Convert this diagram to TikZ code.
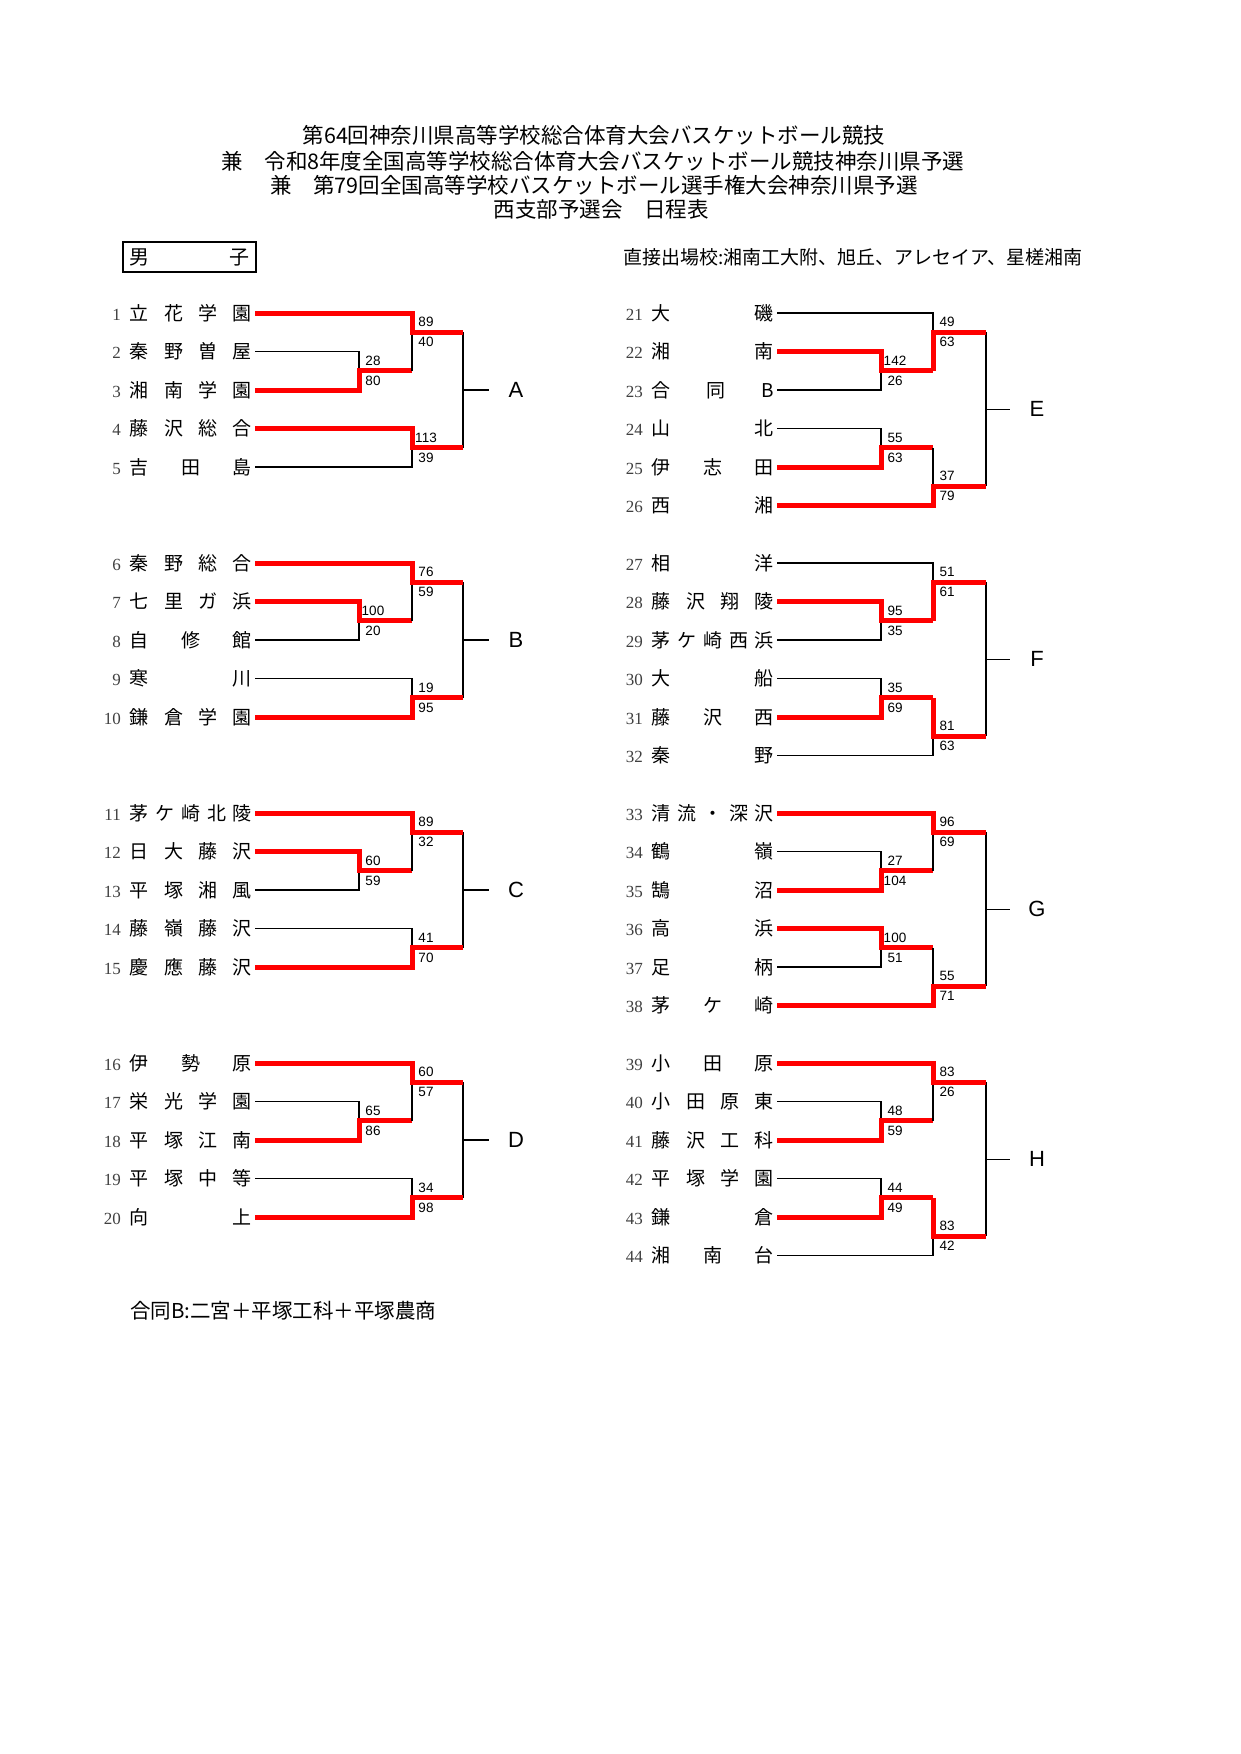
\documentclass[tikz,border=0pt]{standalone}
\usepackage{fontspec}
\setmainfont{Noto Sans CJK JP}
\newfontfamily\numfont{Liberation Serif}
\newfontfamily\latinfont{Liberation Sans}

% team number and spread-out school name
\makeatletter
\def\nm@a#1#2\@nil{#1\ifx\relax#2\relax\else\hfill\nm@a#2\@nil\fi}
\newcommand\nm[1]{\makebox[122pt][s]{\nm@a#1\@nil}}
\makeatother
\newcommand\no[1]{\makebox[24pt][r]{\numfont\fontsize{17}{17}\selectfont\color{black!75}#1}\hspace{9pt}}

% one game: upper, lower, game point, next point, winner (u/l), scores
\newcommand\bout[7]{%
  \if u#5
    \draw[loser] (#2) -| (#3);
    \draw[winner] (#1) -| (#3) -- (#3 -| #4);
  \else
    \draw[loser] (#1) -| (#3);
    \draw[winner] (#2) -| (#3) -- (#3 -| #4);
  \fi
  \node[score] (#3u) at ([shift={(14,-10)}]#3) {#6};
  \node[score] (#3d) at ([shift={(14,10)}]#3) {#7};
}

\begin{document}
\begin{tikzpicture}[x=1pt, y=-1pt,
    team/.style={anchor=east, inner xsep=3pt, inner ysep=1pt, font=\fontsize{19}{19}\selectfont},
    winner/.style={draw=red, line width=5pt},
    loser/.style={draw=black, line width=1.2pt},
    score/.style={inner sep=0pt, font=\latinfont\fontsize{13.5}{13.5}\selectfont},
    grp/.style={inner sep=0pt, minimum width=54pt, font=\latinfont\fontsize{22}{22}\selectfont},
    title/.style={inner sep=0pt, font=\fontsize{21.5}{21.5}\selectfont}
]
\fill[white] (0,0) rectangle (1241,1754);
\useasboundingbox (0,0) rectangle (1241,1754);

% Heading
\node[title] (head1) at (594,135) {第64回神奈川県高等学校総合体育大会バスケットボール競技};
\node[title] (head2) at (593,161) {兼　令和8年度全国高等学校総合体育大会バスケットボール競技神奈川県予選};
\node[title] (head3) at (594,185) {兼　第79回全国高等学校バスケットボール選手権大会神奈川県予選};
\node[title] (head4) at (601,209) {西支部予選会　日程表};

\node[draw, line width=2.5pt, minimum width=133pt, minimum height=30pt, inner sep=0pt,
      font=\fontsize{20}{20}\selectfont] (boys) at (189.5,257) {\makebox[120pt][s]{男\hfill 子}};
\node[anchor=west, inner sep=0pt, font=\fontsize{19}{19}\selectfont] (seeds) at (623,257)
      {直接出場校:湘南工大附、旭丘、アレセイア、星槎湘南};

% Teams, left half
\node[team] (t1) at (255,313) {\no{1}\nm{立花学園}};
\node[team] (t2) at (255,351.5) {\no{2}\nm{秦野曽屋}};
\node[team] (t3) at (255,390) {\no{3}\nm{湘南学園}};
\node[team] (t4) at (255,428.5) {\no{4}\nm{藤沢総合}};
\node[team] (t5) at (255,467) {\no{5}\nm{吉田島}};

\node[team] (t6) at (255,563) {\no{6}\nm{秦野総合}};
\node[team] (t7) at (255,601.5) {\no{7}\nm{七里ガ浜}};
\node[team] (t8) at (255,640) {\no{8}\nm{自修館}};
\node[team] (t9) at (255,678.5) {\no{9}\nm{寒川}};
\node[team] (t10) at (255,717) {\no{10}\nm{鎌倉学園}};

\node[team] (t11) at (255,813) {\no{11}\nm{茅ケ崎北陵}};
\node[team] (t12) at (255,851.5) {\no{12}\nm{日大藤沢}};
\node[team] (t13) at (255,890) {\no{13}\nm{平塚湘風}};
\node[team] (t14) at (255,928.5) {\no{14}\nm{藤嶺藤沢}};
\node[team] (t15) at (255,967) {\no{15}\nm{慶應藤沢}};

\node[team] (t16) at (255,1063) {\no{16}\nm{伊勢原}};
\node[team] (t17) at (255,1101.5) {\no{17}\nm{栄光学園}};
\node[team] (t18) at (255,1140) {\no{18}\nm{平塚江南}};
\node[team] (t19) at (255,1178.5) {\no{19}\nm{平塚中等}};
\node[team] (t20) at (255,1217) {\no{20}\nm{向上}};

% Teams, right half
\node[team] (t21) at (777,313) {\no{21}\nm{大磯}};
\node[team] (t22) at (777,351.5) {\no{22}\nm{湘南}};
\node[team] (t23) at (777,390) {\no{23}\nm{合同B}};
\node[team] (t24) at (777,428.5) {\no{24}\nm{山北}};
\node[team] (t25) at (777,467) {\no{25}\nm{伊志田}};
\node[team] (t26) at (777,505.5) {\no{26}\nm{西湘}};

\node[team] (t27) at (777,563) {\no{27}\nm{相洋}};
\node[team] (t28) at (777,601.5) {\no{28}\nm{藤沢翔陵}};
\node[team] (t29) at (777,640) {\no{29}\nm{茅ケ崎西浜}};
\node[team] (t30) at (777,678.5) {\no{30}\nm{大船}};
\node[team] (t31) at (777,717) {\no{31}\nm{藤沢西}};
\node[team] (t32) at (777,755.5) {\no{32}\nm{秦野}};

\node[team] (t33) at (777,813) {\no{33}\nm{清流・深沢}};
\node[team] (t34) at (777,851.5) {\no{34}\nm{鶴嶺}};
\node[team] (t35) at (777,890) {\no{35}\nm{鵠沼}};
\node[team] (t36) at (777,928.5) {\no{36}\nm{高浜}};
\node[team] (t37) at (777,967) {\no{37}\nm{足柄}};
\node[team] (t38) at (777,1005.5) {\no{38}\nm{茅ケ崎}};

\node[team] (t39) at (777,1063) {\no{39}\nm{小田原}};
\node[team] (t40) at (777,1101.5) {\no{40}\nm{小田原東}};
\node[team] (t41) at (777,1140) {\no{41}\nm{藤沢工科}};
\node[team] (t42) at (777,1178.5) {\no{42}\nm{平塚学園}};
\node[team] (t43) at (777,1217) {\no{43}\nm{鎌倉}};
\node[team] (t44) at (777,1255.5) {\no{44}\nm{湘南台}};

% Game points and group winners
\foreach \b/\y in {A/313,B/563,C/813,D/1063}{
  \coordinate (\b1) at (359,\y+57.75);
  \coordinate (\b2) at (412,\y+19.25);
  \coordinate (\b3) at (412,\y+134.75);
  \coordinate (f\b) at (463,\y+77);
  \node[grp] (l\b) at (516,\y+77) {\b};
  \draw[loser] (\b2 -| f\b) -- (\b3 -| f\b);
  \draw[loser] (f\b) -- (l\b);
}
\foreach \b/\y in {E/313,F/563,G/813,H/1063}{
  \coordinate (\b1) at (881,\y+57.75);
  \coordinate (\b2) at (933,\y+19.25);
  \coordinate (\b3) at (881,\y+134.75);
  \coordinate (\b4) at (933,\y+173.25);
  \coordinate (f\b) at (986,\y+96.25);
  \node[grp] (l\b) at (1037,\y+96.25) {\b};
  \draw[loser] (\b2 -| f\b) -- (\b4 -| f\b);
  \draw[loser] (f\b) -- (l\b);
}

% Results
\bout{t2.east}{t3.east}{A1}{A2}{l}{28}{80}
\bout{t1.east}{A1 -| A2}{A2}{fA}{u}{89}{40}
\bout{t4.east}{t5.east}{A3}{fA}{u}{113}{39}

\bout{t7.east}{t8.east}{B1}{B2}{u}{100}{20}
\bout{t6.east}{B1 -| B2}{B2}{fB}{u}{76}{59}
\bout{t9.east}{t10.east}{B3}{fB}{l}{19}{95}

\bout{t12.east}{t13.east}{C1}{C2}{u}{60}{59}
\bout{t11.east}{C1 -| C2}{C2}{fC}{u}{89}{32}
\bout{t14.east}{t15.east}{C3}{fC}{l}{41}{70}

\bout{t17.east}{t18.east}{D1}{D2}{l}{65}{86}
\bout{t16.east}{D1 -| D2}{D2}{fD}{u}{60}{57}
\bout{t19.east}{t20.east}{D3}{fD}{l}{34}{98}

\bout{t22.east}{t23.east}{E1}{E2}{u}{142}{26}
\bout{t21.east}{E1 -| E2}{E2}{fE}{l}{49}{63}
\bout{t24.east}{t25.east}{E3}{E4}{l}{55}{63}
\bout{E3 -| E4}{t26.east}{E4}{fE}{l}{37}{79}

\bout{t28.east}{t29.east}{F1}{F2}{u}{95}{35}
\bout{t27.east}{F1 -| F2}{F2}{fF}{l}{51}{61}
\bout{t30.east}{t31.east}{F3}{F4}{l}{35}{69}
\bout{F3 -| F4}{t32.east}{F4}{fF}{u}{81}{63}

\bout{t34.east}{t35.east}{G1}{G2}{l}{27}{104}
\bout{t33.east}{G1 -| G2}{G2}{fG}{u}{96}{69}
\bout{t36.east}{t37.east}{G3}{G4}{u}{100}{51}
\bout{G3 -| G4}{t38.east}{G4}{fG}{l}{55}{71}

\bout{t40.east}{t41.east}{H1}{H2}{l}{48}{59}
\bout{t39.east}{H1 -| H2}{H2}{fH}{u}{83}{26}
\bout{t42.east}{t43.east}{H3}{H4}{l}{44}{49}
\bout{H3 -| H4}{t44.east}{H4}{fH}{u}{83}{42}

% Note
\node[anchor=west, inner sep=0pt, font=\fontsize{20.5}{20.5}\selectfont] (note) at (130,1311)
      {合同B:二宮＋平塚工科＋平塚農商};

\end{tikzpicture}
\end{document}
